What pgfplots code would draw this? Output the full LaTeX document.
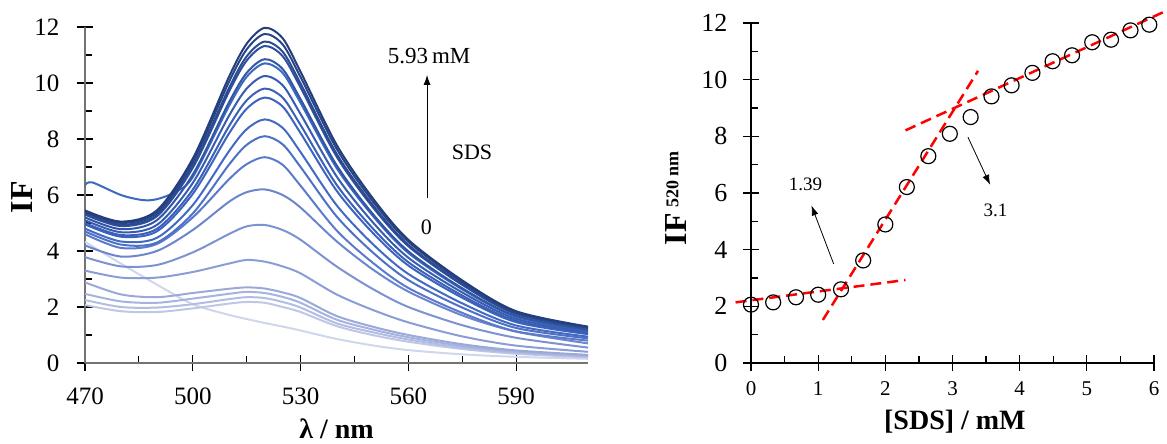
\documentclass[border=0pt]{standalone}
\usepackage{fontspec}
\setmainfont{Liberation Serif}
\usepackage{pgfplots}
\pgfplotsset{compat=1.18}
\usetikzlibrary{arrows.meta}
\definecolor{c1}{RGB}{208,214,236}
\definecolor{c2}{RGB}{190,199,230}
\definecolor{c3}{RGB}{178,189,226}
\definecolor{c4}{RGB}{166,179,222}
\definecolor{c5}{RGB}{154,169,218}
\definecolor{c6}{RGB}{138,157,214}
\definecolor{c7}{RGB}{124,146,210}
\definecolor{c8}{RGB}{108,134,206}
\definecolor{c9}{RGB}{92,122,203}
\definecolor{c10}{RGB}{78,113,200}
\definecolor{c11}{RGB}{66,106,196}
\definecolor{c12}{RGB}{60,100,190}
\definecolor{c13}{RGB}{58,96,184}
\definecolor{c14}{RGB}{55,92,178}
\definecolor{c15}{RGB}{60,104,192}
\definecolor{c16}{RGB}{50,86,166}
\definecolor{c17}{RGB}{46,80,156}
\definecolor{c18}{RGB}{43,74,146}
\definecolor{c19}{RGB}{40,68,136}
\definecolor{c20}{RGB}{36,62,124}
\pgfplotsset{spec/.style={smooth, line width=2pt, no marks}}
\begin{document}
\begin{tikzpicture}
\path[use as bounding box] (0,0) rectangle (1167pt,444pt);
\begin{axis}[
  scale only axis, width=503pt, height=336pt, at={(85pt,81pt)}, anchor=south west,
  xmin=470, xmax=610, ymin=0, ymax=12,
  axis lines*=left, axis line style={black!55, line width=1.3pt},
  xtick={470,500,530,560,590}, ytick={0,2,4,6,8,10,12},
  minor x tick num=1, minor y tick num=1,
  tick align=center, major tick length=16pt, minor tick length=7pt,
  minor y tick style={xshift=3.5pt}, minor x tick style={yshift=3.5pt},
  tick style={black, line width=1.2pt},
  /pgf/number format/assume math mode=true,
  ticklabel style={font=\fontsize{25}{30}\selectfont},
  yticklabel style={xshift=-14pt},
  xticklabel style={yshift=-13pt},
  xlabel={\textbf{λ / nm}},
  xlabel style={font=\fontsize{28}{30}\selectfont, at={(axis description cs:0.5,-0.195)}, anchor=center},
  ylabel={\textbf{IF}},
  ylabel style={font=\fontsize{32}{34}\selectfont, at={(axis description cs:-0.125,0.494)}, anchor=center, rotate=0},
]
\addplot[spec, c1] coordinates {(470,4.33)(480,3.55)(490,2.8)(500,2.1)(510,1.72)(515,1.57)(520,1.43)(525,1.3)(530,1.16)(540,0.86)(550,0.63)(560,0.46)(575,0.31)(590,0.22)(610,0.15)};
\addplot[spec, c2] coordinates {(470,2.07)(480,1.85)(490,1.82)(500,1.95)(510,2.12)(515,2.18)(520,2.15)(525,2.0)(530,1.82)(540,1.32)(550,1.0)(560,0.76)(575,0.5)(590,0.33)(610,0.2)};
\addplot[spec, c3] coordinates {(470,2.25)(480,2.0)(490,1.98)(500,2.1)(510,2.28)(515,2.35)(520,2.32)(525,2.18)(530,1.98)(540,1.42)(550,1.1)(560,0.84)(575,0.55)(590,0.37)(610,0.23)};
\addplot[spec, c4] coordinates {(470,2.47)(480,2.2)(490,2.15)(500,2.3)(510,2.47)(515,2.54)(520,2.5)(525,2.36)(530,2.15)(540,1.55)(550,1.2)(560,0.92)(575,0.61)(590,0.41)(610,0.26)};
\addplot[spec, c5] coordinates {(470,2.88)(480,2.45)(490,2.35)(500,2.5)(510,2.65)(515,2.7)(520,2.66)(525,2.52)(530,2.32)(540,1.68)(550,1.3)(560,1.0)(575,0.67)(590,0.45)(610,0.29)};
\addplot[spec, c6] coordinates {(470,3.3)(480,3.05)(490,3.05)(500,3.25)(510,3.55)(515,3.68)(520,3.62)(525,3.45)(530,3.2)(540,2.45)(550,1.9)(560,1.45)(575,0.95)(590,0.62)(610,0.4)};
\addplot[spec, c7] coordinates {(470,3.78)(480,3.45)(490,3.5)(500,3.95)(510,4.6)(515,4.88)(520,4.93)(525,4.75)(530,4.4)(540,3.45)(550,2.65)(560,2.0)(575,1.35)(590,0.9)(610,0.55)};
\addplot[spec, c8] coordinates {(470,4.2)(480,3.8)(490,4.0)(500,4.75)(510,5.75)(515,6.1)(520,6.2)(525,6.0)(530,5.55)(540,4.35)(550,3.35)(560,2.55)(575,1.7)(590,1.12)(610,0.7)};
\addplot[spec, c9] coordinates {(470,4.60)(480,4.11)(490,4.25)(500,5.2)(510,6.55)(515,7.10)(520,7.35)(525,7.08)(530,6.33)(540,4.74)(550,3.59)(560,2.68)(575,1.79)(590,1.13)(610,0.80)};
\addplot[spec, c10] coordinates {(470,4.70)(480,4.23)(490,4.30)(500,5.34)(510,7.07)(515,7.79)(520,8.10)(525,7.81)(530,7.00)(540,5.24)(550,3.96)(560,2.96)(575,1.98)(590,1.25)(610,0.88)};
\addplot[spec, c11] coordinates {(470,4.80)(480,4.34)(490,4.47)(500,5.64)(510,7.55)(515,8.35)(520,8.70)(525,8.40)(530,7.53)(540,5.64)(550,4.26)(560,3.18)(575,2.13)(590,1.34)(610,0.94)};
\addplot[spec, c12] coordinates {(470,4.95)(480,4.51)(490,4.70)(500,6.04)(510,8.18)(515,9.08)(520,9.48)(525,9.16)(530,8.21)(540,6.16)(550,4.66)(560,3.48)(575,2.33)(590,1.46)(610,1.03)};
\addplot[spec, c13] coordinates {(470,5.00)(480,4.57)(490,4.79)(500,6.19)(510,8.44)(515,9.38)(520,9.80)(525,9.48)(530,8.50)(540,6.37)(550,4.82)(560,3.60)(575,2.41)(590,1.51)(610,1.06)};
\addplot[spec, c14] coordinates {(470,5.10)(480,4.67)(490,4.93)(500,6.43)(510,8.81)(515,9.80)(520,10.25)(525,9.92)(530,8.89)(540,6.67)(550,5.04)(560,3.76)(575,2.52)(590,1.58)(610,1.11)};
\addplot[spec, c15] coordinates {(470,6.35)(472,6.45)(480,6.0)(486,5.82)(490,5.85)(495,6.1)(500,6.64)(510,9.16)(515,10.22)(520,10.70)(525,10.36)(530,9.29)(540,6.97)(550,5.27)(560,3.93)(575,2.63)(590,1.65)(610,1.16)};
\addplot[spec, c16] coordinates {(470,5.20)(480,4.78)(490,5.10)(500,6.73)(510,9.29)(515,10.36)(520,10.85)(525,10.50)(530,9.42)(540,7.07)(550,5.34)(560,3.99)(575,2.67)(590,1.68)(610,1.18)};
\addplot[spec, c17] coordinates {(470,5.30)(480,4.89)(490,5.24)(500,6.97)(510,9.67)(515,10.80)(520,11.32)(525,10.96)(530,9.84)(540,7.38)(550,5.58)(560,4.17)(575,2.79)(590,1.75)(610,1.23)};
\addplot[spec, c18] coordinates {(470,5.35)(480,4.94)(490,5.30)(500,7.06)(510,9.80)(515,10.95)(520,11.48)(525,11.12)(530,9.98)(540,7.48)(550,5.66)(560,4.22)(575,2.83)(590,1.77)(610,1.25)};
\addplot[spec, c19] coordinates {(470,5.40)(480,5.00)(490,5.38)(500,7.19)(510,10.02)(515,11.20)(520,11.75)(525,11.38)(530,10.21)(540,7.66)(550,5.79)(560,4.33)(575,2.90)(590,1.82)(610,1.28)};
\addplot[spec, c20] coordinates {(470,5.45)(480,5.05)(490,5.45)(500,7.30)(510,10.20)(515,11.40)(520,11.97)(525,11.60)(530,10.40)(540,7.80)(550,5.90)(560,4.40)(575,2.95)(590,1.85)(610,1.30)};
\draw[-{Latex[length=10pt,width=7pt]}, line width=1pt] (axis cs:565.2,5.89) -- (axis cs:565.2,10.29);
\node[font=\fontsize{23}{23}\selectfont] at (axis cs:565.8,10.96) {5.93\,mM};
\node[font=\fontsize{22}{22}\selectfont] at (axis cs:577.7,7.51) {SDS};
\node[font=\fontsize{22}{22}\selectfont] at (axis cs:565,4.86) {0};
\end{axis}
\begin{axis}[
  scale only axis, width=403pt, height=340pt, at={(751pt,81pt)}, anchor=south west,
  xmin=0, xmax=6, ymin=0, ymax=12,
  axis lines*=left, axis line style={black, line width=1.2pt},
  xtick={0,1,2,3,4,5,6}, ytick={0,2,4,6,8,10,12},
  minor x tick num=1, minor y tick num=1,
  tick align=center, major tick length=16pt, minor tick length=7pt,
  minor y tick style={xshift=3.5pt}, minor x tick style={yshift=3.5pt},
  tick style={black, line width=1.2pt},
  /pgf/number format/assume math mode=true,
  yticklabel style={font=\fontsize{26}{30}\selectfont, xshift=-12pt},
  xticklabel style={font=\fontsize{21}{25}\selectfont, yshift=-7pt},
  xlabel={\textbf{[SDS] / mM}},
  xlabel style={font=\fontsize{28}{30}\selectfont, at={(axis description cs:0.506,-0.174)}, anchor=center},
  ylabel={\fontsize{32}{34}\selectfont\textbf{IF}\,\raisebox{0.55ex}{\fontsize{18}{18}\selectfont\textbf{520 nm}}},
  ylabel style={at={(axis description cs:-0.186,0.485)}, anchor=center},
  clip=false,
]
\addplot[only marks, mark=o, mark size=7.5pt, mark options={line width=1.2pt, black}] coordinates {(0,2.06)(0.33,2.14)(0.67,2.32)(1.0,2.41)(1.34,2.60)(1.67,3.62)(2.0,4.89)(2.32,6.21)(2.64,7.30)(2.96,8.09)(3.27,8.68)(3.58,9.41)(3.88,9.80)(4.19,10.24)(4.49,10.65)(4.78,10.86)(5.08,11.32)(5.36,11.41)(5.65,11.74)(5.93,11.94)};
\addplot[red, line width=2.5pt, dash pattern=on 11pt off 6pt] coordinates {(-0.23,2.14)(2.3,2.93)};
\addplot[red, line width=2.5pt, dash pattern=on 11pt off 6pt] coordinates {(1.07,1.52)(3.38,10.31)};
\addplot[red, line width=2.5pt, dash pattern=on 11pt off 6pt] coordinates {(2.3,8.21)(6.2,12.45)};
\draw[-{Latex[length=10pt,width=7pt]}, line width=0.8pt] (axis cs:1.23,3.5) -- (axis cs:0.9,5.56);
\node[font=\fontsize{19}{19}\selectfont] at (axis cs:0.81,6.32) {1.39};
\draw[-{Latex[length=10pt,width=7pt]}, line width=0.8pt] (axis cs:3.23,7.97) -- (axis cs:3.56,6.29);
\node[font=\fontsize{19}{19}\selectfont] at (axis cs:3.64,5.38) {3.1};
\end{axis}
\end{tikzpicture}
\end{document}
